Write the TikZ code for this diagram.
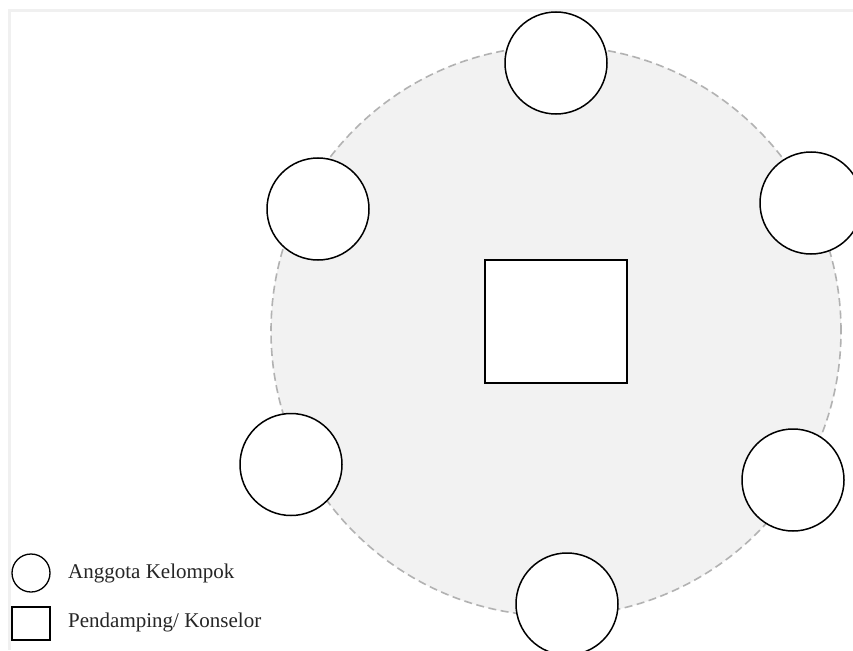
\documentclass[tikz,border=0pt]{standalone}
\usepackage{fontspec}
\setmainfont{Liberation Serif}
\begin{document}
\begin{tikzpicture}[x=1pt,y=-1pt,
  member/.style={circle,draw=black,line width=1.5pt,fill=white,minimum size=102pt,inner sep=0pt},
  counselor/.style={rectangle,draw=black,line width=1.5pt,fill=white,minimum width=142pt,minimum height=123pt,inner sep=0pt},
  legcircle/.style={circle,draw=black,line width=1.3pt,fill=white,minimum size=38pt,inner sep=0pt},
  legsquare/.style={rectangle,draw=black,line width=1.3pt,fill=white,minimum width=38pt,minimum height=33pt,inner sep=0pt},
  legtext/.style={anchor=west,inner sep=0pt,font=\fontsize{21}{25}\selectfont,text=black!85}]
\useasboundingbox (0,0) rectangle (853,650);
\fill[white] (0,0) rectangle (853,650);
\draw[color=black!6,line width=2.2pt] (9.5,650) -- (9.5,10.5) -- (853,10.5);
\node[circle,fill=black!5,draw=black!30,dash pattern=on 8pt off 4.5pt,line width=1.6pt,minimum size=570pt,inner sep=0pt] (ring) at (556,331) {};
\node[counselor] (konselor) at (556,321.5) {};
\node[member] (m1) at (556,63) {};
\node[member] (m2) at (318,209) {};
\node[member] (m3) at (811,203) {};
\node[member] (m4) at (291,464.5) {};
\node[member] (m5) at (793,480) {};
\node[member] (m6) at (567,604) {};
\node[legcircle] (lc) at (31,573) {};
\node[legsquare] (ls) at (31,623.5) {};
\node[legtext] (lt1) at (68,573) {Anggota Kelompok};
\node[legtext] (lt2) at (68,622) {Pendamping/ Konselor};
\end{tikzpicture}
\end{document}
